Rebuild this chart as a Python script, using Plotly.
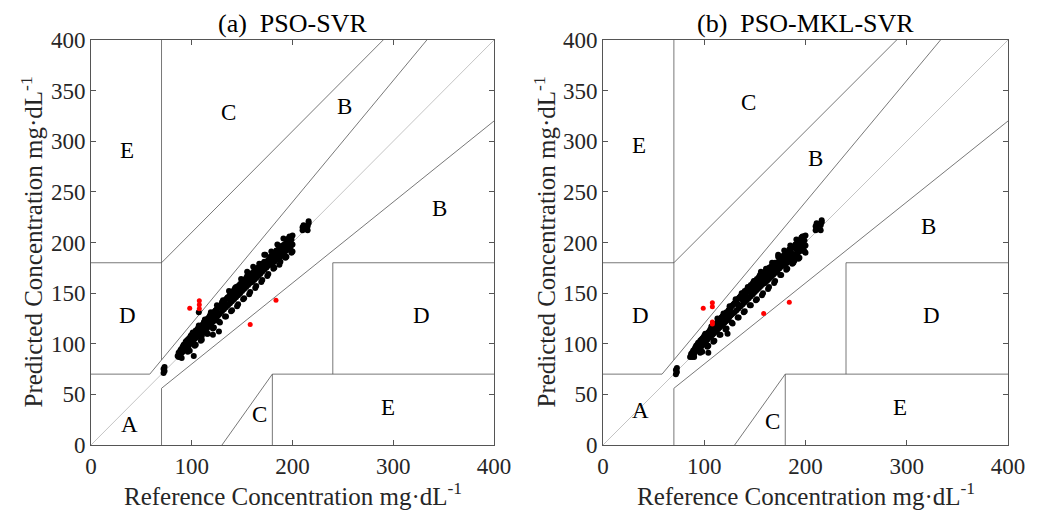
import plotly.graph_objects as go

# ---------------- data ----------------
x_ref = [
    72, 72, 73, 73, 86, 87, 87, 88, 88, 89, 89, 90, 90, 91, 91, 92, 92, 93, 93, 94,
    94, 95, 95, 96, 96, 97, 97, 98, 98, 99, 99, 100, 100, 101, 101, 102, 102, 103, 103, 104,
    104, 105, 105, 106, 106, 107, 107, 108, 108, 109, 109, 110, 110, 111, 111, 112, 112, 113, 113, 114,
    114, 115, 115, 116, 116, 117, 117, 118, 118, 119, 119, 120, 120, 121, 121, 122, 122, 123, 123, 124,
    124, 125, 125, 126, 126, 127, 127, 128, 128, 129, 130, 130, 131, 132, 132, 133, 134, 134, 135, 136,
    136, 137, 138, 138, 139, 140, 140, 141, 142, 142, 143, 144, 144, 145, 146, 146, 147, 148, 148, 149,
    150, 150, 151, 152, 152, 153, 154, 154, 155, 156, 156, 157, 158, 158, 159, 160, 160, 161, 162, 162,
    163, 164, 164, 165, 166, 166, 167, 168, 168, 169, 170, 170, 171, 172, 172, 173, 174, 174, 175, 176,
    176, 177, 178, 178, 179, 180, 180, 181, 182, 182, 183, 184, 184, 185, 186, 186, 187, 188, 188, 189,
    190, 190, 191, 192, 192, 193, 194, 194, 195, 196, 196, 197, 198, 198, 199, 200, 200, 200, 210, 210,
    211, 211, 215, 215, 216, 216,
    92, 96, 99, 103, 106, 109, 112, 115, 118, 121, 124, 127, 130, 133, 136, 139, 142, 145, 148, 151,
    154, 157, 160, 163, 166, 169, 172, 175, 178, 181, 184, 187, 190, 193, 196, 199,
    90, 94, 98, 101, 104, 107, 110, 113, 116, 119, 122, 125, 128, 131, 134, 137, 140, 143, 146, 149,
    152, 155, 158, 161, 164, 167, 170, 173, 176, 179, 182, 185, 188, 191, 194, 197,
]

y_svr = [
    71, 75, 77, 73, 88, 91, 87, 92, 89, 94, 90, 95, 91, 97, 92, 98, 94, 99, 95, 101,
    96, 103, 97, 104, 99, 105, 98, 106, 101, 108, 100, 109, 103, 110, 102, 88, 104, 111, 105, 113,
    106, 112, 107, 114, 108, 131, 109, 116, 110, 117, 111, 118, 108, 119, 112, 121, 113, 120, 114, 123,
    116, 124, 115, 125, 118, 126, 117, 128, 119, 127, 120, 129, 121, 109, 122, 131, 124, 132, 123, 133,
    126, 134, 127, 136, 128, 112, 129, 137, 130, 138, 139, 132, 141, 142, 134, 140, 144, 136, 145, 146,
    138, 145, 149, 140, 148, 151, 142, 147, 153, 144, 150, 156, 146, 152, 157, 148, 155, 159, 150, 156,
    161, 152, 158, 163, 154, 160, 165, 156, 171, 162, 158, 166, 168, 160, 164, 170, 161, 167, 172, 163,
    169, 174, 165, 171, 175, 167, 172, 177, 169, 174, 179, 171, 176, 188, 173, 178, 181, 175, 180, 183,
    177, 182, 185, 179, 184, 187, 178, 186, 189, 181, 187, 191, 183, 189, 193, 185, 190, 194, 186, 192,
    196, 188, 194, 198, 190, 197, 201, 192, 199, 203, 194, 201, 205, 195, 203, 207, 198, 191, 212, 215,
    214, 217, 212, 216, 219, 221,
    99, 92, 107, 98, 115, 103, 121, 110, 126, 115, 133, 122, 141, 127, 146, 132, 152, 137, 158, 144,
    164, 149, 169, 155, 175, 161, 181, 167, 186, 174, 192, 178, 197, 185, 204, 190,
    86, 102, 93, 111, 99, 118, 104, 124, 110, 131, 116, 138, 121, 143, 127, 152, 133, 155, 139, 164,
    145, 167, 151, 176, 157, 179, 163, 188, 169, 191, 175, 198, 181, 204, 186, 206,
]

y_mkl = [
    70, 74, 76, 72, 87, 90, 88, 91, 87, 93, 89, 94, 90, 96, 92, 97, 93, 99, 94, 100,
    95, 101, 96, 103, 98, 104, 97, 105, 100, 106, 99, 108, 102, 109, 101, 107, 103, 110, 104, 91,
    111, 112, 106, 113, 107, 114, 108, 116, 109, 117, 110, 118, 111, 119, 112, 120, 113, 121, 114, 122,
    115, 123, 116, 125, 117, 126, 118, 127, 119, 128, 120, 129, 121, 130, 122, 131, 123, 110, 124, 133,
    125, 134, 127, 135, 128, 137, 129, 138, 130, 139, 140, 131, 141, 143, 133, 139, 145, 135, 146, 147,
    137, 144, 150, 139, 147, 152, 141, 148, 153, 143, 151, 155, 145, 152, 158, 147, 154, 160, 149, 157,
    162, 151, 157, 164, 153, 159, 166, 155, 162, 171, 157, 165, 169, 159, 163, 171, 160, 166, 173, 162,
    168, 175, 164, 170, 176, 166, 171, 178, 168, 173, 180, 170, 175, 179, 171, 188, 182, 174, 179, 184,
    176, 181, 186, 178, 183, 188, 177, 185, 190, 180, 186, 192, 182, 188, 194, 184, 189, 195, 185, 182,
    197, 187, 193, 199, 189, 196, 202, 191, 198, 204, 193, 200, 206, 194, 202, 207, 197, 190, 212, 216,
    213, 219, 212, 217, 220, 222,
    98, 91, 106, 97, 114, 102, 120, 109, 127, 114, 132, 121, 140, 126, 147, 131, 153, 138, 157, 143,
    165, 148, 170, 154, 176, 160, 180, 168, 187, 173, 193, 179, 198, 184, 205, 191,
    87, 101, 92, 110, 98, 117, 103, 125, 109, 130, 115, 137, 120, 144, 126, 150, 132, 156, 138, 162,
    144, 168, 150, 174, 156, 180, 162, 186, 168, 192, 174, 197, 180, 203, 185, 206,
]

red_x_svr = [98, 107.5, 107.5, 107.5, 183.6, 158]
red_y_svr = [135, 142.5, 138.5, 134.6, 143, 119]
red_x_mkl = [99, 108, 108, 108, 108, 158.7, 184]
red_y_mkl = [135, 140.5, 136.5, 121.5, 119.5, 130, 141]

# Clarke error grid boundaries
grid_x = [0, 175/3, None, 175/3, 400/1.2, None, 70, 70, None, 0, 70, None,
          70, 290, None, 70, 70, None, 70, 400, None, 180, 180, None,
          180, 400, None, 240, 240, None, 240, 400, None, 130, 180]
grid_y = [70, 70, None, 70, 400, None, 84, 400, None, 180, 180, None,
          180, 400, None, 0, 56, None, 56, 320, None, 0, 70, None,
          70, 70, None, 70, 180, None, 180, 180, None, 0, 70]
diag = [0, 400]

zone_text = ["C", "B", "E", "B", "D", "D", "A", "C", "E"]
zone_x_svr = [136, 252, 36, 346, 36, 328, 38, 167, 295]
zone_y_svr = [328, 334, 291, 234, 128, 128, 20, 30, 37]
zone_x_mkl = [144, 210, 36, 321, 37, 324, 37, 167, 293]
zone_y_mkl = [338, 283, 296, 216, 128, 128, 34, 23, 37]

titles = ["(a)\u00a0\u00a0PSO-SVR", "(b)\u00a0\u00a0PSO-MKL-SVR"]
x_title = "Reference Concentration mg\u00b7dL<sup>-1</sup>"
y_title = "Predicted Concentration mg\u00b7dL<sup>-1</sup>"
x_ticks = [0, 100, 200, 300, 400]
y_ticks = [0, 50, 100, 150, 200, 250, 300, 350, 400]

# ---------------- figure ----------------
FONT = "Liberation Serif, Times New Roman, serif"
W, H = 1038, 510
OFF = 8  # page body offset
fig = go.Figure()

panels = [
    ("x", "y", y_svr, red_x_svr, red_y_svr, zone_x_svr, zone_y_svr),
    ("x2", "y2", y_mkl, red_x_mkl, red_y_mkl, zone_x_mkl, zone_y_mkl),
]
ann = []
for xa, ya, yv, rx, ry, zx, zy in panels:
    fig.add_trace(go.Scatter(x=diag, y=diag, mode="lines", xaxis=xa, yaxis=ya,
                             line=dict(color="#b5b5b5", width=0.8), hoverinfo="skip"))
    fig.add_trace(go.Scatter(x=grid_x, y=grid_y, mode="lines", xaxis=xa, yaxis=ya,
                             line=dict(color="#555555", width=0.8), hoverinfo="skip"))
    fig.add_trace(go.Scatter(x=x_ref, y=yv, mode="markers", xaxis=xa, yaxis=ya,
                             marker=dict(color="black", size=6, line=dict(width=0))))
    fig.add_trace(go.Scatter(x=rx, y=ry, mode="markers", xaxis=xa, yaxis=ya,
                             marker=dict(color="red", size=5, line=dict(width=0))))
    for t, px, py in zip(zone_text, zx, zy):
        ann.append(dict(text=t, x=px, y=py, xref=xa, yref=ya, showarrow=False,
                        xanchor="center", yanchor="middle",
                        font=dict(family=FONT, size=23, color="black")))

xdom = [[(91 - OFF) / W, (494 - OFF) / W], [(603 - OFF) / W, (1008 - OFF) / W]]
ydom = [1 - (445 - OFF) / H, 1 - (40 - OFF) / H]

axis_common = dict(range=[0, 400], showgrid=False, zeroline=False, showline=True,
                   linecolor="#555555", linewidth=1, mirror="ticks", ticks="inside",
                   ticklen=5, tickcolor="#555555", automargin=False,
                   tickfont=dict(family=FONT, size=23, color="#262626"))

fig.update_layout(
    width=W, height=H, margin=dict(l=0, r=0, t=0, b=0, pad=0, autoexpand=False),
    paper_bgcolor="white", plot_bgcolor="white", showlegend=False,
    xaxis=dict(domain=xdom[0], anchor="y", tickvals=x_ticks, **axis_common),
    yaxis=dict(domain=ydom, anchor="x", tickvals=y_ticks, **axis_common),
    xaxis2=dict(domain=xdom[1], anchor="y2", tickvals=x_ticks, **axis_common),
    yaxis2=dict(domain=ydom, anchor="x2", tickvals=y_ticks, **axis_common),
)

ytitle_x = [32 - OFF, 545 - OFF]
for i in range(2):
    cx = (xdom[i][0] + xdom[i][1]) / 2
    ann.append(dict(text=titles[i], x=cx, y=1 - (23 - OFF) / H, xref="paper", yref="paper",
                    xanchor="center", yanchor="middle", showarrow=False,
                    font=dict(family=FONT, size=26, color="black")))
    ann.append(dict(text=x_title, x=cx, y=1 - (494 - OFF) / H, xref="paper", yref="paper",
                    xanchor="center", yanchor="middle", showarrow=False,
                    font=dict(family=FONT, size=25, color="#262626")))
    ann.append(dict(text=y_title, x=ytitle_x[i] / W, y=(ydom[0] + ydom[1]) / 2,
                    xref="paper", yref="paper", xanchor="center", yanchor="middle",
                    textangle=-90, showarrow=False,
                    font=dict(family=FONT, size=25, color="#262626")))
fig.update_layout(annotations=ann)

assert len(x_ref) == len(y_svr) == len(y_mkl)
fig.write_html("out.html")
